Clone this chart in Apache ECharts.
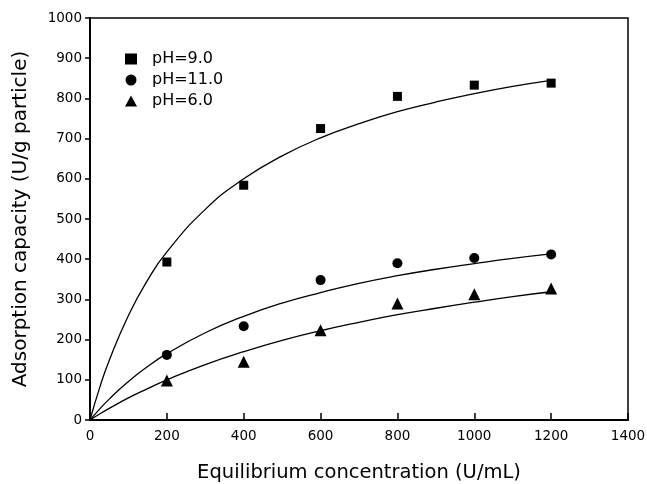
<!DOCTYPE html>
<html>
<head>
<meta charset="utf-8">
<script src="https://cdn.jsdelivr.net/npm/echarts@6/dist/echarts.min.js"></script>
<style>
  html, body { margin: 0; padding: 0; background: #fff; }
  #chart { width: 647px; height: 484px; }
</style>
</head>
<body>
<div id="chart"></div>
<script>
// measured points (x = equilibrium concentration)
const concX = [200, 400, 600, 800, 1000, 1200];
const ph9Vals = [393, 584, 725, 805, 833, 838];
const ph11Vals = [162, 233, 348, 390, 403, 412];
const ph6Vals = [98, 145, 223, 290, 313, 327];

// fitted curves
const curveX = [0, 25, 50, 100, 150, 200, 300, 400, 500, 600, 700, 800, 900, 1000, 1100, 1200];
const ph9Curve = [0, 80, 148, 260, 348, 418, 524, 600, 657, 702, 737, 767, 791, 812, 830, 845];
const ph11Curve = [0, 27, 52, 96, 133, 165, 217, 258, 291, 317, 340, 359, 375, 389, 402, 413];
const ph6Curve = [0, 15, 29, 55, 78, 100, 138, 170, 198, 222, 243, 262, 278, 293, 307, 319];

const FONT = 'DejaVu Sans, Arial, sans-serif';

const zip = (xs, ys) => xs.map((x, i) => [x, ys[i]]);

const chart = echarts.init(document.getElementById('chart'), null, { renderer: 'canvas' });

const curve = (vals) => ({
    type: 'line',
    data: zip(curveX, vals),
    smooth: true,
    showSymbol: false,
    silent: true,
    lineStyle: { color: '#000', width: 1.3 },
    z: 1
});

const pts = (name, vals, symbol, size) => ({
    name: name,
    type: 'scatter',
    data: zip(concX, vals),
    symbol: symbol,
    symbolSize: size,
    itemStyle: { color: '#000', opacity: 1 },
    z: 3
});

chart.setOption({
    animation: false,
    backgroundColor: '#fff',
    grid: {
        left: 90, top: 18, width: 538, height: 402,
        outerBoundsMode: 'none',
        show: true, borderColor: '#000', borderWidth: 1.5
    },
    legend: {
        orient: 'vertical',
        left: 120, top: 46,
        itemGap: 5,
        itemWidth: 12, itemHeight: 11,
        textStyle: { fontFamily: FONT, fontSize: 16, color: '#000', padding: [0, 0, 0, 10] },
        data: [
            { name: 'pH=9.0', icon: 'rect' },
            { name: 'pH=11.0', icon: 'circle' },
            { name: 'pH=6.0', icon: 'triangle' }
        ]
    },
    xAxis: {
        type: 'value',
        min: 0, max: 1400, interval: 200,
        name: 'Equilibrium concentration (U/mL)',
        nameLocation: 'middle',
        nameGap: 43,
        nameTextStyle: { fontFamily: FONT, fontSize: 19.5, color: '#000' },
        axisLine: { lineStyle: { color: '#000', width: 2 } },
        axisTick: { inside: true, length: 7, lineStyle: { color: '#000', width: 1.5 } },
        axisLabel: { fontFamily: FONT, fontSize: 13.5, color: '#000', margin: 9, formatter: v => String(v) },
        splitLine: { show: false }
    },
    yAxis: {
        type: 'value',
        min: 0, max: 1000, interval: 100,
        name: 'Adsorption capacity (U/g particle)',
        nameLocation: 'middle',
        nameGap: 59,
        nameTextStyle: { fontFamily: FONT, fontSize: 20, color: '#000' },
        axisLine: { lineStyle: { color: '#000', width: 2 } },
        axisTick: { inside: false, length: 5, lineStyle: { color: '#000', width: 1.5 } },
        axisLabel: { fontFamily: FONT, fontSize: 13.5, color: '#000', margin: 8, formatter: v => String(v) },
        splitLine: { show: false }
    },
    series: [
        curve(ph9Curve),
        curve(ph11Curve),
        curve(ph6Curve),
        pts('pH=9.0', ph9Vals, 'rect', 9),
        pts('pH=11.0', ph11Vals, 'circle', 10),
        pts('pH=6.0', ph6Vals, 'triangle', 12)
    ]
});
</script>
</body>
</html>
